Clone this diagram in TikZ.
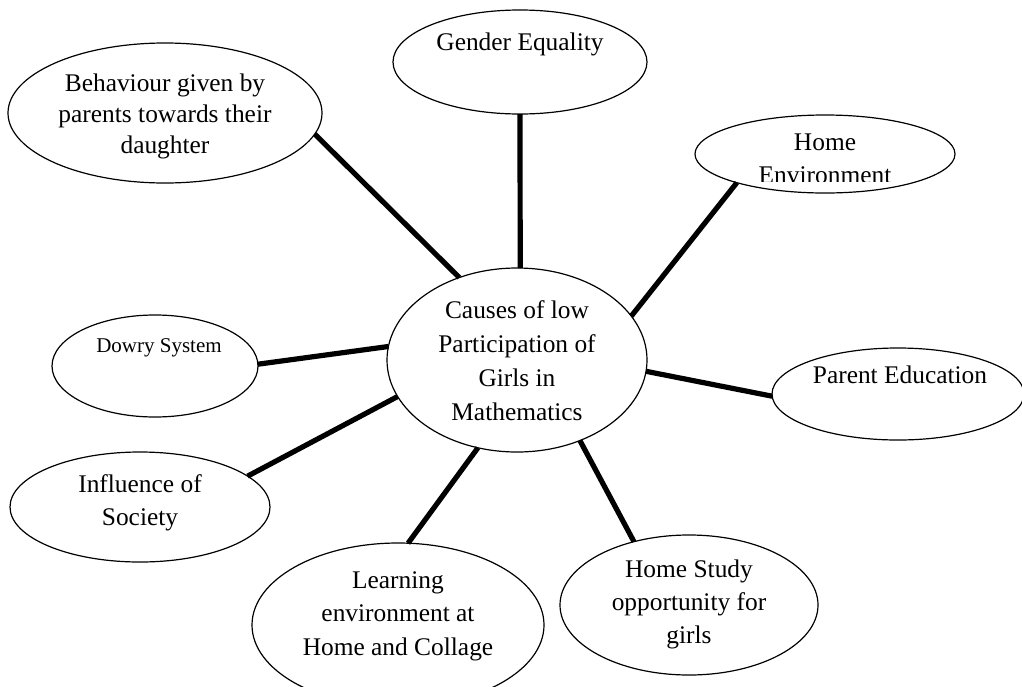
\documentclass[tikz,border=0pt]{standalone}
\usepackage{fontspec}
\setmainfont{Liberation Serif}
\usetikzlibrary{shapes.geometric}
\tikzset{
  bub/.style={draw, ellipse, line width=0.6pt, inner sep=0pt, outer sep=0pt},
  txt/.style={anchor=base, inner sep=0pt, align=center, font=\fontsize{12.7}{16.5}\selectfont},
  link/.style={line width=2.6pt},
}
\newcommand{\mlines}[1]{\begin{tabular}[t]{@{}c@{}}#1\end{tabular}}
\begin{document}
\begin{tikzpicture}[x=0.5pt, y=-0.5pt]
\clip (0,0) rectangle (1022,686);
\fill[white] (0,0) rectangle (1022,686);
% ellipses
\node[bub, minimum width=130pt, minimum height=92pt] (C) at (517,360) {};
\node[bub, minimum width=157pt, minimum height=70pt] (B) at (165,113) {};
\node[bub, minimum width=127pt, minimum height=52pt] (G) at (520,62) {};
\node[bub, minimum width=130pt, minimum height=39pt] (H) at (825,154) {};
\node[bub, minimum width=103pt, minimum height=51pt] (D) at (155,366) {};
\node[bub, minimum width=126pt, minimum height=46pt] (P) at (898,394) {};
\node[bub, minimum width=130pt, minimum height=55pt] (I) at (140,507) {};
\node[bub, minimum width=146pt, minimum height=82pt] (L) at (398,625) {};
\node[bub, minimum width=129pt, minimum height=70pt] (S) at (689,605) {};
% texts
\node[txt, font=\fontsize{12.7}{17}\selectfont] (Ct) at (517,318) {\mlines{Causes of low\\Participation of\\Girls in\\Mathematics}};
\node[txt, font=\fontsize{12.7}{15.5}\selectfont] (Bt) at (165,91) {\mlines{Behaviour given by\\parents towards their\\daughter}};
\node[txt] (Gt) at (520,50) {Gender Equality};
\begin{scope}
  \clip (690,100) rectangle (960,181.5);
  \node[txt] (Ht) at (825,150) {\mlines{Home\\Environment}};
\end{scope}
\node[txt, font=\fontsize{10.5}{13}\selectfont] (Dt) at (159,352) {Dowry System};
\node[txt] (Pt) at (900,383) {Parent Education};
\node[txt] (It) at (140,492) {\mlines{Influence of\\Society}};
\node[txt, font=\fontsize{12.7}{16.8}\selectfont] (Lt) at (398,588) {\mlines{Learning\\environment at\\Home and Collage}};
\node[txt, font=\fontsize{12.7}{16.5}\selectfont] (St) at (689,577) {\mlines{Home Study\\opportunity for\\girls}};
% connectors
\draw[link] (C.125.5) -- (B.-8.5);
\draw[link] (C.88) -- (G.-90);
\draw[link] (C.21.2) -- (H.198.8);
\draw[link] (C.-5.7) -- (P.181.4);
\draw[link] (C.-52.5) -- (S.131.2);
\draw[link] (C.246.7) -- (L.83.7);
\draw[link] (C.197) -- (I.16.4);
\draw[link] (C.174.3) -- (D.1.7);
\end{tikzpicture}
\end{document}
